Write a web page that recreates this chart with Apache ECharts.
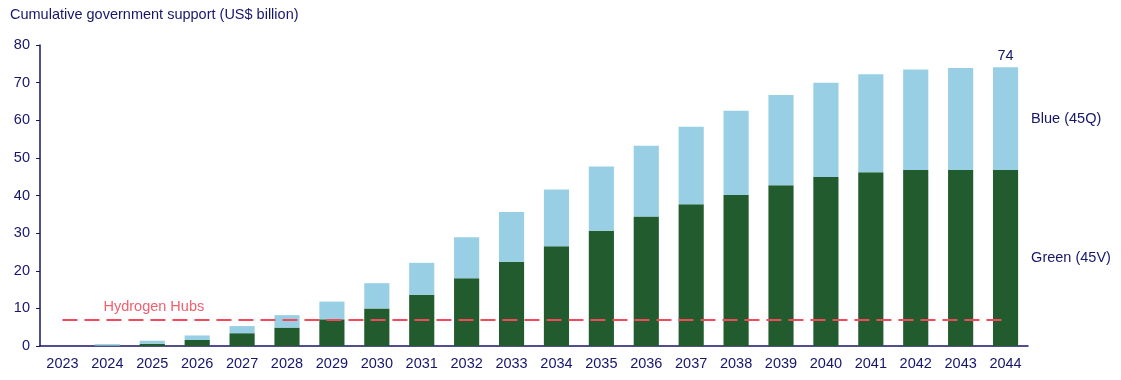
<!DOCTYPE html>
<html>
<head>
<meta charset="utf-8">
<script src="https://cdn.jsdelivr.net/npm/echarts@6/dist/echarts.min.js"></script>
<style>html,body{margin:0;padding:0;background:#fff}#c{width:1121px;height:380px}</style>
</head>
<body>
<div id="c"></div>
<script>
const categories = ['2023','2024','2025','2026','2027','2028','2029','2030','2031','2032','2033','2034','2035','2036','2037','2038','2039','2040','2041','2042','2043','2044'];
const green45V = [0,0.1,0.6,1.6,3.4,4.9,7.1,10.0,13.6,18.0,22.4,26.5,30.6,34.4,37.7,40.1,42.7,44.9,46.2,46.8,46.8,46.8];
const blue45Q = [0,0.4,0.8,1.2,1.9,3.3,4.7,6.7,8.5,10.9,13.2,15.1,17.1,18.8,20.6,22.4,24.0,25.1,26.0,26.7,27.1,27.3];
const totalLabel = [null,null,null,null,null,null,null,null,null,null,null,null,null,null,null,null,null,null,null,null,null,74];
const hubsLevel = 7;
const seriesNames = ['Green (45V)','Blue (45Q)'];
const yTicks = {min:0, max:80, interval:10};

const navy = '#16166b';
const font = 'Liberation Sans, Arial, sans-serif';
const fs = 14.5;

function withEndLabel(arr, text){
  return arr.map((v,i)=> i===arr.length-1 ? {value:v, label:{show:true, position:'right', distance:13, formatter:text, color:navy, fontSize:fs, fontFamily:font}} : v);
}

const chart = echarts.init(document.getElementById('c'));
chart.setOption({
  animation:false,
  textStyle:{fontFamily:font},
  title:{text:'Cumulative government support (US$ billion)', left:5, top:2, textStyle:{color:navy, fontSize:fs, fontWeight:'normal', fontFamily:font}},
  grid:{left:40, right:93, top:45, bottom:34},
  xAxis:{type:'category', data:categories, boundaryGap:true,
    axisLine:{lineStyle:{color:navy, width:1.5}}, axisTick:{show:false},
    axisLabel:{color:navy, fontSize:fs, margin:10, interval:0, fontFamily:font}},
  yAxis:{type:'value', min:yTicks.min, max:yTicks.max, interval:yTicks.interval,
    axisLine:{show:true, lineStyle:{color:navy, width:1.5}}, axisTick:{show:true, length:4, lineStyle:{color:navy}},
    splitLine:{show:false}, axisLabel:{color:navy, fontSize:fs, margin:10, fontFamily:font}},
  series:[
    {name:seriesNames[0], type:'bar', stack:'t', barWidth:'56%', data:withEndLabel(green45V, seriesNames[0]),
      itemStyle:{color:'#215b2e'},
      markLine:{silent:true, symbol:'none',
        lineStyle:{color:'#f24a5a', width:2, type:[15,7]},
        label:{show:true, position:'insideStartTop', distance:[41,5], formatter:'Hydrogen Hubs', color:'#f0606e', fontSize:fs, fontFamily:font},
        data:[[{coord:[categories[0], hubsLevel]},{coord:[categories[categories.length-1], hubsLevel]}]]}},
    {name:seriesNames[1], type:'bar', stack:'t', barWidth:'56%', data:withEndLabel(blue45Q, seriesNames[1]),
      itemStyle:{color:'#99cfe4'}},
    {type:'scatter', data:totalLabel, symbolSize:0, silent:true, itemStyle:{opacity:1},
      label:{show:true, position:'top', distance:4, color:navy, fontSize:fs, fontFamily:font}}
  ]
});
</script>
</body>
</html>
